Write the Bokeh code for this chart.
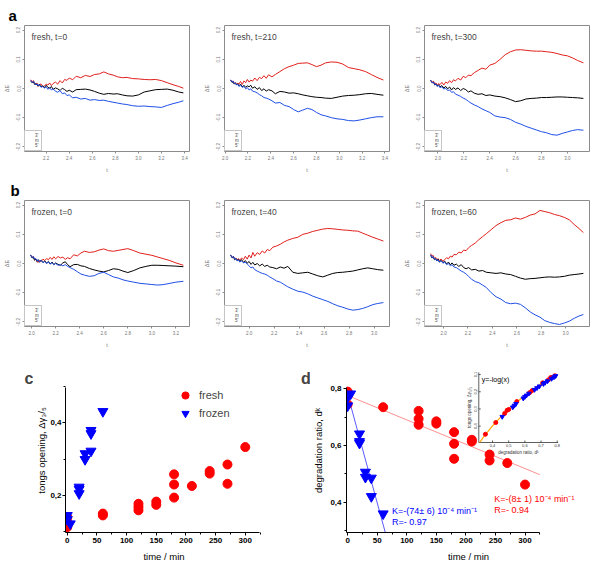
import math
from bokeh.plotting import figure
from bokeh.layouts import column, row
from bokeh.models import (Range1d, FixedTicker, PrintfTickFormatter, Legend,
                          LegendItem, Label, Title)
from bokeh.core.properties import value
from bokeh.embed import file_html
from bokeh.resources import INLINE

FONT = "Liberation Sans"
RED_R, BLACK_R, BLUE_R = "#e0201c", "#000000", "#1f4fe6"
RED_O, BLUE_O = "#ff0000", "#0000ff"

# ---------------- data: panels a / b (relative position traces) ----------------
WALK_LABELS = ["3'", "m", "5'"]
WALK_Y_TICKS = [-0.2, -0.1, 0.0, 0.1, 0.2]

A1_TITLE = "fresh, t=0"
A1_T = [2.065, 2.08, 2.09, 2.10, 2.11, 2.12, 2.13, 2.14, 2.155, 2.17, 2.185, 2.20, 2.215, 2.23, 2.245, 2.26,
        2.28, 2.30, 2.32, 2.34, 2.36, 2.38, 2.40, 2.43, 2.46, 2.50, 2.54, 2.58, 2.62, 2.66, 2.70, 2.74, 2.78,
        2.82, 2.86, 2.90, 2.95, 3.00, 3.05, 3.10, 3.15, 3.20, 3.25, 3.30, 3.35, 3.39]
A1_3P = [0.030, 0.024, 0.027, 0.015, 0.013, 0.019, 0.007, 0.011, 0.016, 0.006, 0.009, 0.015, 0.012, 0.019,
         0.010, 0.017, 0.022, 0.015, 0.027, 0.019, 0.031, 0.028, 0.036, 0.030, 0.042, 0.037, 0.045, 0.041,
         0.048, 0.050, 0.057, 0.050, 0.046, 0.040, 0.037, 0.038, 0.034, 0.033, 0.031, 0.030, 0.031, 0.027,
         0.020, 0.013, 0.007, 0.001]
A1_M = [0.026, 0.019, 0.023, 0.014, 0.017, 0.012, 0.008, 0.015, 0.006, 0.009, 0.003, 0.011, 0.004, 0.001,
        0.007, -0.003, 0.002, -0.001, -0.007, 0.001, -0.004, -0.010, -0.006, -0.012, -0.004, -0.003, -0.002,
        -0.005, -0.010, -0.016, -0.020, -0.017, -0.019, -0.018, -0.022, -0.025, -0.026, -0.022, -0.012,
        -0.008, -0.004, -0.003, -0.002, -0.006, -0.012, -0.015]
A1_5P = [0.028, 0.021, 0.025, 0.017, 0.012, 0.016, 0.009, 0.013, 0.004, 0.008, 0.001, 0.006, -0.003, 0.003,
         -0.005, -0.001, -0.009, -0.013, -0.007, -0.018, -0.015, -0.024, -0.022, -0.032, -0.030, -0.036,
         -0.034, -0.040, -0.038, -0.041, -0.040, -0.044, -0.047, -0.050, -0.053, -0.055, -0.059, -0.061,
         -0.060, -0.062, -0.063, -0.065, -0.058, -0.052, -0.047, -0.042]
A1_X_TICKS = [2.2, 2.4, 2.6, 2.8, 3.0, 3.2, 3.4]

A2_TITLE = "fresh, t=210"
A2_T = [2.048, 2.06, 2.07, 2.08, 2.09, 2.10, 2.11, 2.12, 2.135, 2.15, 2.165, 2.18, 2.195, 2.21, 2.225, 2.24,
        2.26, 2.28, 2.30, 2.32, 2.34, 2.36, 2.38, 2.41, 2.44, 2.48, 2.52, 2.56, 2.60, 2.64, 2.68, 2.72, 2.76,
        2.80, 2.84, 2.88, 2.93, 2.98, 3.03, 3.08, 3.13, 3.18, 3.23, 3.28, 3.33, 3.386]
A2_3P = [0.029, 0.023, 0.026, 0.017, 0.021, 0.013, 0.019, 0.015, 0.024, 0.014, 0.026, 0.020, 0.031, 0.022,
         0.029, 0.025, 0.036, 0.027, 0.038, 0.034, 0.044, 0.035, 0.047, 0.040, 0.048, 0.058, 0.068, 0.075,
         0.080, 0.086, 0.087, 0.088, 0.082, 0.075, 0.080, 0.088, 0.091, 0.090, 0.084, 0.072, 0.068, 0.064,
         0.058, 0.048, 0.038, 0.029]
A2_M = [0.028, 0.021, 0.023, 0.015, 0.019, 0.012, 0.016, 0.009, 0.015, 0.005, 0.011, 0.004, 0.009, 0.006,
        0.011, 0.001, 0.006, -0.003, 0.003, -0.007, -0.001, -0.009, -0.004, -0.008, -0.018, -0.010, -0.012,
        -0.016, -0.015, -0.018, -0.022, -0.025, -0.028, -0.030, -0.031, -0.033, -0.034, -0.030, -0.026,
        -0.024, -0.023, -0.021, -0.018, -0.017, -0.020, -0.023]
A2_5P = [0.030, 0.023, 0.025, 0.017, 0.019, 0.012, 0.015, 0.007, 0.011, 0.004, 0.007, -0.001, 0.003, -0.005,
         -0.001, -0.009, -0.011, -0.015, -0.021, -0.025, -0.031, -0.033, -0.036, -0.042, -0.050, -0.048,
         -0.058, -0.062, -0.072, -0.080, -0.074, -0.068, -0.072, -0.082, -0.090, -0.094, -0.100, -0.104,
         -0.106, -0.110, -0.111, -0.108, -0.104, -0.100, -0.097, -0.097]
A2_X_TICKS = [2.0, 2.2, 2.4, 2.6, 2.8, 3.0, 3.2, 3.4]

A3_TITLE = "fresh, t=300"
A3_T = [1.943, 1.955, 1.965, 1.975, 1.985, 1.995, 2.005, 2.015, 2.03, 2.045, 2.06, 2.075, 2.09, 2.105, 2.12,
        2.135, 2.155, 2.175, 2.195, 2.215, 2.235, 2.255, 2.28, 2.31, 2.34, 2.37, 2.40, 2.44, 2.48, 2.52, 2.56,
        2.60, 2.64, 2.68, 2.72, 2.76, 2.80, 2.84, 2.88, 2.92, 2.96, 3.00, 3.04, 3.08, 3.124]
A3_3P = [0.029, 0.022, 0.025, 0.016, 0.019, 0.011, 0.017, 0.013, 0.021, 0.012, 0.022, 0.018, 0.027, 0.020,
         0.030, 0.026, 0.035, 0.029, 0.042, 0.037, 0.046, 0.044, 0.054, 0.062, 0.070, 0.066, 0.080, 0.086,
         0.100, 0.116, 0.126, 0.132, 0.133, 0.131, 0.129, 0.128, 0.128, 0.126, 0.124, 0.120, 0.115, 0.112,
         0.105, 0.096, 0.088]
A3_M = [0.028, 0.019, 0.022, 0.012, 0.015, 0.008, 0.013, 0.005, 0.010, 0.002, 0.007, -0.001, 0.005, -0.005,
        0.003, -0.003, 0.002, -0.007, 0.000, -0.004, -0.012, -0.008, -0.016, -0.020, -0.018, -0.024, -0.022,
        -0.026, -0.028, -0.032, -0.038, -0.045, -0.042, -0.036, -0.034, -0.033, -0.031, -0.031, -0.030,
        -0.029, -0.029, -0.030, -0.031, -0.032, -0.034]
A3_5P = [0.028, 0.020, 0.022, 0.013, 0.016, 0.007, 0.011, 0.003, 0.006, -0.002, 0.001, -0.007, -0.005, -0.013,
         -0.011, -0.019, -0.023, -0.027, -0.033, -0.037, -0.044, -0.050, -0.056, -0.062, -0.070, -0.076,
         -0.082, -0.094, -0.098, -0.100, -0.106, -0.116, -0.122, -0.130, -0.136, -0.142, -0.148, -0.152,
         -0.158, -0.160, -0.154, -0.149, -0.144, -0.141, -0.143]
A3_X_TICKS = [2.0, 2.2, 2.4, 2.6, 2.8, 3.0]

B1_TITLE = "frozen, t=0"
B1_T = [1.992, 2.005, 2.015, 2.025, 2.035, 2.045, 2.055, 2.065, 2.08, 2.095, 2.11, 2.125, 2.14, 2.155, 2.17,
        2.185, 2.20, 2.22, 2.24, 2.26, 2.28, 2.30, 2.32, 2.35, 2.38, 2.41, 2.44, 2.48, 2.52, 2.56, 2.60, 2.64,
        2.68, 2.72, 2.76, 2.80, 2.85, 2.90, 2.95, 3.00, 3.05, 3.10, 3.15, 3.20, 3.262]
B1_3P = [0.029, 0.021, 0.024, 0.013, 0.016, 0.006, 0.004, 0.011, 0.007, 0.015, 0.010, 0.017, 0.013, 0.021,
         0.014, 0.023, 0.016, 0.024, 0.019, 0.022, 0.014, 0.020, 0.016, 0.030, 0.026, 0.036, 0.042, 0.038,
         0.040, 0.046, 0.050, 0.044, 0.042, 0.045, 0.048, 0.051, 0.044, 0.036, 0.032, 0.028, 0.022, 0.016,
         0.010, 0.002, -0.006]
B1_M = [0.028, 0.019, 0.022, 0.011, 0.015, 0.007, 0.013, 0.005, 0.011, 0.003, 0.009, 0.001, 0.007, -0.002,
        0.005, -0.004, 0.002, -0.003, -0.006, 0.002, 0.006, -0.004, -0.011, -0.004, -0.003, -0.008, -0.010,
        -0.017, -0.022, -0.026, -0.029, -0.024, -0.018, -0.020, -0.026, -0.031, -0.024, -0.015, -0.010,
        -0.006, -0.006, -0.007, -0.008, -0.009, -0.011]
B1_5P = [0.030, 0.021, 0.024, 0.015, 0.017, 0.009, 0.013, 0.005, 0.011, 0.003, 0.007, 0.000, 0.005, -0.002,
         0.003, -0.004, 0.000, -0.006, -0.004, -0.008, -0.004, -0.010, -0.014, -0.020, -0.028, -0.036,
         -0.040, -0.044, -0.042, -0.034, -0.030, -0.038, -0.046, -0.050, -0.056, -0.060, -0.064, -0.068,
         -0.070, -0.072, -0.074, -0.072, -0.068, -0.064, -0.061]
B1_X_TICKS = [2.0, 2.2, 2.4, 2.6, 2.8, 3.0, 3.2]

B2_TITLE = "frozen, t=40"
B2_T = [1.852, 1.865, 1.875, 1.885, 1.895, 1.905, 1.915, 1.925, 1.94, 1.955, 1.97, 1.985, 2.00, 2.015, 2.03,
        2.045, 2.065, 2.085, 2.105, 2.125, 2.145, 2.165, 2.19, 2.22, 2.25, 2.28, 2.31, 2.35, 2.39, 2.43, 2.47,
        2.51, 2.55, 2.59, 2.63, 2.67, 2.71, 2.75, 2.79, 2.83, 2.87, 2.91, 2.95, 2.99, 3.03, 3.075]
B2_3P = [0.029, 0.021, 0.024, 0.015, 0.019, 0.012, 0.017, 0.011, 0.019, 0.013, 0.025, 0.015, 0.029, 0.019,
         0.038, 0.025, 0.037, 0.031, 0.043, 0.036, 0.048, 0.044, 0.056, 0.060, 0.066, 0.074, 0.080, 0.086,
         0.090, 0.100, 0.104, 0.110, 0.114, 0.118, 0.120, 0.119, 0.117, 0.115, 0.114, 0.112, 0.111, 0.104,
         0.097, 0.090, 0.084, 0.077]
B2_M = [0.028, 0.019, 0.023, 0.013, 0.017, 0.009, 0.015, 0.007, 0.013, 0.004, 0.010, 0.001, 0.007, -0.003,
        0.004, -0.005, 0.000, -0.008, -0.002, -0.010, -0.006, -0.012, -0.014, -0.018, -0.012, -0.016, -0.010,
        -0.030, -0.034, -0.032, -0.030, -0.036, -0.042, -0.046, -0.040, -0.034, -0.031, -0.030, -0.028,
        -0.026, -0.022, -0.018, -0.015, -0.018, -0.021, -0.023]
B2_5P = [0.030, 0.021, 0.024, 0.015, 0.017, 0.009, 0.013, 0.005, 0.009, 0.002, 0.005, -0.002, -0.008, -0.015,
         -0.012, -0.021, -0.026, -0.030, -0.034, -0.036, -0.040, -0.046, -0.052, -0.060, -0.064, -0.072,
         -0.080, -0.088, -0.095, -0.098, -0.104, -0.112, -0.118, -0.124, -0.130, -0.138, -0.145, -0.150,
         -0.156, -0.160, -0.158, -0.154, -0.148, -0.141, -0.137, -0.134]
B2_X_TICKS = [1.8, 2.0, 2.2, 2.4, 2.6, 2.8, 3.0]

B3_TITLE = "frozen, t=60"
B3_T = [1.894, 1.905, 1.915, 1.925, 1.935, 1.945, 1.955, 1.965, 1.98, 1.995, 2.01, 2.025, 2.04, 2.055, 2.07,
        2.085, 2.105, 2.125, 2.145, 2.165, 2.185, 2.205, 2.23, 2.26, 2.29, 2.32, 2.35, 2.39, 2.43, 2.47, 2.51,
        2.55, 2.59, 2.63, 2.67, 2.71, 2.75, 2.79, 2.83, 2.87, 2.91, 2.95, 2.99, 3.03, 3.07, 3.11, 3.146]
B3_3P = [0.034, 0.025, 0.028, 0.017, 0.021, 0.012, 0.017, 0.010, 0.015, 0.008, 0.013, 0.020, 0.016, 0.025,
         0.022, 0.031, 0.030, 0.039, 0.036, 0.046, 0.044, 0.054, 0.062, 0.070, 0.082, 0.092, 0.102, 0.116,
         0.130, 0.140, 0.148, 0.150, 0.156, 0.152, 0.158, 0.166, 0.170, 0.182, 0.178, 0.174, 0.168, 0.164,
         0.158, 0.150, 0.134, 0.120, 0.106]
B3_M = [0.028, 0.019, 0.022, 0.013, 0.017, 0.009, 0.015, 0.005, 0.011, 0.003, 0.008, -0.002, 0.005, -0.004,
        0.002, -0.006, -0.002, -0.010, -0.004, -0.014, -0.018, -0.014, -0.022, -0.020, -0.026, -0.024, -0.030,
        -0.032, -0.034, -0.032, -0.036, -0.038, -0.044, -0.050, -0.054, -0.052, -0.051, -0.049, -0.047,
        -0.046, -0.047, -0.046, -0.044, -0.040, -0.038, -0.036, -0.034]
B3_5P = [0.030, 0.021, 0.024, 0.015, 0.017, 0.009, 0.013, 0.005, 0.009, 0.001, 0.005, -0.004, 0.000, -0.008,
         -0.004, -0.012, -0.014, -0.020, -0.026, -0.030, -0.036, -0.044, -0.054, -0.062, -0.066, -0.074,
         -0.082, -0.100, -0.114, -0.122, -0.134, -0.138, -0.136, -0.140, -0.152, -0.166, -0.176, -0.184,
         -0.196, -0.202, -0.206, -0.209, -0.204, -0.198, -0.188, -0.180, -0.175]
B3_X_TICKS = [2.0, 2.2, 2.4, 2.6, 2.8, 3.0]

# ---------------- data: panel c (tongs opening vs time) ----------------
C_FRESH_T = [0, 0, 0, 0, 60, 60, 120, 120, 120, 150, 150, 180, 180, 180, 210, 240, 240, 270, 270, 300]
C_FRESH_Y = [0.140, 0.127, 0.118, 0.113, 0.150, 0.145, 0.177, 0.168, 0.159, 0.183, 0.174, 0.258, 0.230,
             0.194, 0.226, 0.267, 0.260, 0.285, 0.232, 0.333]
C_FROZEN_T = [0, 0, 5, 20, 20, 20, 30, 30, 40, 40, 40, 60]
C_FROZEN_Y = [0.145, 0.134, 0.122, 0.223, 0.217, 0.205, 0.315, 0.299, 0.379, 0.370, 0.322, 0.431]
C_X_TICKS = [0, 50, 100, 150, 200, 250, 300]
C_Y_TICKS = [0.2, 0.4]

# ---------------- data: panel d (degradation ratio vs time) ----------------
D_FRESH_T = [0, 0, 60, 120, 120, 120, 150, 150, 180, 180, 180, 210, 210, 240, 240, 270, 300]
D_FRESH_Y = [0.790, 0.745, 0.735, 0.722, 0.694, 0.673, 0.685, 0.677, 0.647, 0.606, 0.553, 0.620, 0.614,
             0.568, 0.547, 0.538, 0.462]
D_FROZEN_T = [0, 0, 5, 20, 20, 20, 30, 30, 40, 40, 60]
D_FROZEN_Y = [0.770, 0.740, 0.782, 0.641, 0.614, 0.608, 0.506, 0.488, 0.485, 0.420, 0.359]
D_FIT_FRESH_T = [0, 325]
D_FIT_FRESH_Y = [0.776, 0.497]
D_FIT_FROZEN_T = [0, 64]
D_FIT_FROZEN_Y = [0.780, 0.290]
D_Y_TICKS = [0.4, 0.6, 0.8]
D_FROZEN_TEXT = ["K=-(74± 6) 10⁻⁴ min⁻¹", "R=- 0.97"]
D_FRESH_TEXT = ["K=-(8± 1) 10⁻⁴ min⁻¹", "R=- 0.94"]

# inset of d: tongs opening vs degradation ratio
INSET_FIT_X = [0.32, 0.35, 0.40, 0.45, 0.50, 0.55, 0.60, 0.65, 0.70, 0.75, 0.80]
INSET_FIT_Y = [0.495, 0.456, 0.398, 0.347, 0.301, 0.260, 0.222, 0.187, 0.155, 0.125, 0.097]
INSET_FRESH_X = [0.356, 0.42, 0.475, 0.49, 0.50, 0.55, 0.63, 0.645, 0.71, 0.745, 0.76, 0.785]
INSET_FRESH_Y = [0.447, 0.379, 0.326, 0.308, 0.303, 0.257, 0.205, 0.193, 0.148, 0.131, 0.117, 0.107]
INSET_FROZEN_X = [0.46, 0.525, 0.535, 0.545, 0.59, 0.60, 0.61, 0.625, 0.66, 0.675, 0.69, 0.715, 0.725,
                  0.74, 0.765, 0.78, 0.79]
INSET_FROZEN_Y = [0.345, 0.290, 0.280, 0.270, 0.238, 0.229, 0.221, 0.210, 0.188, 0.178, 0.168, 0.154,
                  0.147, 0.138, 0.124, 0.115, 0.108]
INSET_X_TICKS = [0.4, 0.5, 0.6, 0.7, 0.8]
INSET_Y_TICKS = [0.1, 0.2, 0.3, 0.4]
INSET_X_LIM = (0.315, 0.806)   # left, right
INSET_Y_LIM = (0.088, 0.495)   # top, bottom (reversed axis)


def comma(v, fmt="%.1f"):
    return (fmt % v).replace(".", ",")


def letter_title(letter, offset, standoff, size="15px"):
    return Title(text=letter, align="left", offset=offset, standoff=standoff, vertical_align="bottom",
                 text_font=FONT, text_font_size=size, text_font_style="bold", text_color="black")


# ---------------- small R-style panels ----------------
SMALL_W, SMALL_H = 200, 175
SMALL_FRAME_W, SMALL_FRAME_H = 170, 127
SMALL_BL, SMALL_BT = 19, 25


def walk_panel(title, t, y3, ym, y5, xticks, letter=None, letter_x=0):
    pad = 0.04 * (max(t) - min(t))
    ypad = 0.04 * (WALK_Y_TICKS[-1] - WALK_Y_TICKS[0])
    p = figure(width=SMALL_W, height=SMALL_H, title=None,
               x_range=Range1d(min(t) - pad, max(t) + pad),
               y_range=Range1d(WALK_Y_TICKS[0] - ypad, WALK_Y_TICKS[-1] + ypad),
               output_backend="svg", toolbar_location=None,
               min_border_left=SMALL_BL, min_border_right=SMALL_W - SMALL_BL - SMALL_FRAME_W,
               min_border_top=SMALL_BT, min_border_bottom=SMALL_H - SMALL_BT - SMALL_FRAME_H)
    if letter:
        p.title = letter_title(letter, letter_x - SMALL_BL, 4)
    p.grid.visible = False
    p.outline_line_color = "#8c8c8c"
    p.background_fill_color = "white"
    p.border_fill_color = "white"
    p.line(t, y3, color=RED_R, line_width=1)
    p.line(t, ym, color=BLACK_R, line_width=1)
    p.line(t, y5, color=BLUE_R, line_width=1)

    for ax in (p.xaxis[0], p.yaxis[0]):
        ax.axis_line_color = "#8c8c8c"
        ax.major_tick_line_color = "#8c8c8c"
        ax.minor_tick_line_color = None
        ax.major_tick_out = 2
        ax.major_tick_in = 0
        ax.major_label_text_font = FONT
        ax.major_label_text_font_size = "4.5px"
        ax.major_label_text_color = "#777777"
        ax.major_label_standoff = 2
        ax.axis_label_text_font = FONT
        ax.axis_label_text_font_size = "5.5px"
        ax.axis_label_text_font_style = "normal"
        ax.axis_label_text_color = "#777777"
        ax.axis_label_standoff = 4
        ax.formatter = PrintfTickFormatter(format="%.1f")
    p.xaxis.ticker = FixedTicker(ticks=xticks)
    p.xaxis.bounds = (xticks[0], xticks[-1])
    p.xaxis.axis_label = "t"
    p.yaxis.ticker = FixedTicker(ticks=WALK_Y_TICKS)
    p.yaxis.bounds = (WALK_Y_TICKS[0], WALK_Y_TICKS[-1])
    p.yaxis.major_label_orientation = "parallel"
    p.yaxis.axis_label = "ΔE"

    rs = [p.quad(left=[], right=[], top=[], bottom=[], fill_color=c, line_color=c)
          for c in (RED_R, BLACK_R, BLUE_R)]
    leg = Legend(items=[LegendItem(label=l, renderers=[r]) for l, r in zip(WALK_LABELS, rs)],
                 location="bottom_left", margin=0, padding=2, spacing=0,
                 glyph_width=5, glyph_height=5, label_width=4, label_height=5,
                 label_standoff=3, label_text_font=FONT, label_text_font_size="4.5px",
                 border_line_color="#8c8c8c", border_line_width=1,
                 background_fill_color="white", background_fill_alpha=1)
    p.add_layout(leg)

    p.add_layout(Label(x=p.x_range.start, y=p.y_range.end, x_offset=7, y_offset=-6, text=title,
                       text_font=FONT, text_font_size="8.5px", text_baseline="top", text_align="left"))
    return p


a1 = walk_panel(A1_TITLE, A1_T, A1_3P, A1_M, A1_5P, A1_X_TICKS, "a", 3)
a2 = walk_panel(A2_TITLE, A2_T, A2_3P, A2_M, A2_5P, A2_X_TICKS)
a3 = walk_panel(A3_TITLE, A3_T, A3_3P, A3_M, A3_5P, A3_X_TICKS)
b1 = walk_panel(B1_TITLE, B1_T, B1_3P, B1_M, B1_5P, B1_X_TICKS, "b", 5)
b2 = walk_panel(B2_TITLE, B2_T, B2_3P, B2_M, B2_5P, B2_X_TICKS)
b3 = walk_panel(B3_TITLE, B3_T, B3_3P, B3_M, B3_5P, B3_X_TICKS)


# ---------------- Origin-style panels ----------------
def style_origin(p, xticks, yticks, ylabel, label_standoff, tick_label_standoff=2):
    p.grid.visible = False
    p.outline_line_color = None
    p.background_fill_color = "white"
    p.border_fill_color = "white"
    for ax in (p.xaxis[0], p.yaxis[0]):
        ax.axis_line_color = "black"
        ax.axis_line_width = 1
        ax.major_tick_line_color = "black"
        ax.minor_tick_line_color = "black"
        ax.major_tick_out = 3
        ax.major_tick_in = 0
        ax.minor_tick_out = 2
        ax.minor_tick_in = 0
        ax.major_label_text_font = FONT
        ax.major_label_text_font_size = "8px"
        ax.major_label_text_font_style = "bold"
        ax.major_label_text_color = "black"
        ax.major_label_standoff = 2
        ax.axis_label_text_font = FONT
        ax.axis_label_text_font_size = "9.5px"
        ax.axis_label_text_font_style = "normal"
        ax.axis_label_text_color = "black"
        ax.axis_label_standoff = label_standoff
    minor_x = [v + 25 for v in xticks]
    p.xaxis.ticker = FixedTicker(ticks=xticks, minor_ticks=minor_x)
    p.xaxis.axis_label = "time / min"
    p.xaxis.axis_label_standoff = 5
    p.yaxis.major_label_standoff = tick_label_standoff
    p.yaxis.ticker = FixedTicker(ticks=yticks,
                                 minor_ticks=[round(v - 0.1, 2) for v in yticks] + [round(yticks[-1] + 0.1, 2)])
    p.yaxis.major_label_overrides = {v: comma(v) for v in yticks}
    p.yaxis.axis_label = ylabel


# bottom row: every plot in a row shares the same top / bottom borders
BOT_H, BOT_BT, BOT_BB = 221, 18, 39
BOT_FH = BOT_H - BOT_BT - BOT_BB
LETTER_BASELINE = 28  # px below the row's top edge


def letter_strip(width, letter, x):
    s = figure(width=width, height=BOT_H, title=None, x_range=Range1d(0, width), y_range=Range1d(0, BOT_FH),
               x_axis_type=None, y_axis_type=None, output_backend="svg", toolbar_location=None,
               min_border_left=0, min_border_right=0, min_border_top=BOT_BT, min_border_bottom=BOT_BB)
    s.outline_line_color = None
    s.border_fill_color = "white"
    s.background_fill_color = "white"
    s.add_layout(Label(x=x, y=BOT_FH - (LETTER_BASELINE - BOT_BT), text=letter, text_font=FONT,
                       text_font_size="16px", text_font_style="bold", text_baseline="alphabetic",
                       text_align="left"))
    return s


# panel c
CSTRIP_W = 33
C_W, C_BL, C_BR = 300 - CSTRIP_W, 32, 38
C_X_PX = 0.5933   # px per minute
C_Y_PX = 363.5    # px per unit
C_Y_AXIS = (0.098, 0.497)
c_fw = C_W - C_BL - C_BR
cstrip = letter_strip(CSTRIP_W, "c", 24)
cfig = figure(width=C_W, height=BOT_H, title=None, x_range=Range1d(-3, -3 + c_fw / C_X_PX),
              y_range=Range1d(C_Y_AXIS[0], C_Y_AXIS[0] + BOT_FH / C_Y_PX),
              output_backend="svg", toolbar_location=None,
              min_border_left=C_BL, min_border_right=C_BR, min_border_top=BOT_BT, min_border_bottom=BOT_BB)
style_origin(cfig, C_X_TICKS, C_Y_TICKS, "tongs opening, Δγ₃/₅", 0, 1)
cfig.xaxis.bounds = (-3, 324)
cfig.yaxis.bounds = C_Y_AXIS
rc1 = cfig.scatter(C_FRESH_T, C_FRESH_Y, marker="circle", size=9, fill_color=RED_O, line_color=RED_O)
rc2 = cfig.scatter(C_FROZEN_T, C_FROZEN_Y, marker="inverted_triangle", size=10,
                   fill_color=BLUE_O, line_color=BLUE_O)
cleg = Legend(items=[LegendItem(label="fresh", renderers=[rc1]), LegendItem(label="frozen", renderers=[rc2])],
              location=(111, 110), margin=0, padding=0, spacing=0,
              glyph_width=18, glyph_height=18, label_height=14, label_standoff=5,
              label_text_font=FONT, label_text_font_size="11px",
              border_line_color=None, background_fill_alpha=0)
cfig.add_layout(cleg)

# panel d
DSTRIP_W = 10
dstrip = letter_strip(DSTRIP_W, "d", 0.6)
D_W, D_BL, D_BR = 600 - 300 - DSTRIP_W, 31, 10
D_X_PX = 0.6033
D_Y_PX = 283.5
D_Y_AXIS = (0.293, 0.806)
d_fw = D_W - D_BL - D_BR
dfig = figure(width=D_W, height=BOT_H, title=None, x_range=Range1d(-2, -2 + d_fw / D_X_PX),
              y_range=Range1d(D_Y_AXIS[0], D_Y_AXIS[0] + BOT_FH / D_Y_PX),
              output_backend="svg", toolbar_location=None,
              min_border_left=D_BL, min_border_right=D_BR, min_border_top=BOT_BT, min_border_bottom=BOT_BB)
style_origin(dfig, C_X_TICKS, D_Y_TICKS, "degradation ratio, dᵏ", 3)
dfig.xaxis.bounds = (-2, 325)
dfig.yaxis.bounds = D_Y_AXIS
dfig.line(D_FIT_FRESH_T, D_FIT_FRESH_Y, color="#ff9090", line_width=1)
dfig.line(D_FIT_FROZEN_T, D_FIT_FROZEN_Y, color="#5a5aff", line_width=1)
dfig.scatter(D_FRESH_T, D_FRESH_Y, marker="circle", size=9, fill_color=RED_O, line_color=RED_O)
dfig.scatter(D_FROZEN_T, D_FROZEN_Y, marker="inverted_triangle", size=10, fill_color=BLUE_O, line_color=BLUE_O)
for i, txt in enumerate(D_FROZEN_TEXT):
    dfig.add_layout(Label(x=75, y=0.386, y_offset=-11 * i, text=txt, text_color=BLUE_O, text_font=FONT,
                          text_font_size="9px", text_baseline="top", text_align="left"))
for i, txt in enumerate(D_FRESH_TEXT):
    dfig.add_layout(Label(x=248, y=0.430, y_offset=-11 * i, text=txt, text_color=RED_O, text_font=FONT,
                          text_font_size="9px", text_baseline="top", text_align="left"))

# inset placed through extra ranges mapped onto a sub-box of d's frame
INSET_PX = (135, 216, 4, 74)  # left, right, top, bottom (px from frame's top-left)
ux = (INSET_X_LIM[1] - INSET_X_LIM[0]) / (INSET_PX[1] - INSET_PX[0])
x_lo = INSET_X_LIM[0] - INSET_PX[0] * ux
uy = (INSET_Y_LIM[1] - INSET_Y_LIM[0]) / (INSET_PX[3] - INSET_PX[2])
y_top = INSET_Y_LIM[0] - INSET_PX[2] * uy
dfig.extra_x_ranges = {"ix": Range1d(x_lo, x_lo + d_fw * ux)}
dfig.extra_y_ranges = {"iy": Range1d(y_top + BOT_FH * uy, y_top)}
IK = dict(x_range_name="ix", y_range_name="iy")
xl, xr = INSET_X_LIM
yt, yb = INSET_Y_LIM
dfig.segment(x0=[xl, xl], y0=[yt, yb], x1=[xl, xr], y1=[yb, yb], color="#333333", line_width=0.8, **IK)
dfig.segment(x0=INSET_X_TICKS, y0=[yb] * len(INSET_X_TICKS), x1=INSET_X_TICKS,
             y1=[yb - 2 * uy] * len(INSET_X_TICKS), color="#333333", line_width=0.8, **IK)
dfig.segment(x0=[xl] * len(INSET_Y_TICKS), y0=INSET_Y_TICKS, x1=[xl + 2 * ux] * len(INSET_Y_TICKS),
             y1=INSET_Y_TICKS, color="#333333", line_width=0.8, **IK)
dfig.text(x=INSET_X_TICKS, y=[yb] * len(INSET_X_TICKS), text=[comma(v) for v in INSET_X_TICKS],
          text_font=value(FONT), text_font_size="4px", text_align="center", text_baseline="top",
          y_offset=1.5, text_color="#333333", **IK)
dfig.text(x=[xl] * len(INSET_Y_TICKS), y=INSET_Y_TICKS, text=[comma(v) for v in INSET_Y_TICKS],
          text_font=value(FONT), text_font_size="4px", text_align="center", text_baseline="bottom",
          angle=math.pi / 2, x_offset=-1.5, text_color="#333333", **IK)
dfig.text(x=[(xl + xr) / 2], y=[yb], text=["degradation ratio, dᵏ"], text_font=value(FONT),
          text_font_size="4.5px", text_align="center", text_baseline="top", y_offset=7,
          text_color="#333333", **IK)
dfig.text(x=[xl], y=[(yt + yb) / 2], text=["tongs opening, Δγ₃/₅"], text_font=value(FONT),
          text_font_size="4.5px", text_align="center", text_baseline="bottom", angle=math.pi / 2,
          x_offset=-7, text_color="#333333", **IK)
dfig.line(INSET_FIT_X, INSET_FIT_Y, color="#ffa500", line_width=1.2, **IK)
dfig.scatter(INSET_FRESH_X, INSET_FRESH_Y, marker="circle", size=4, fill_color=RED_O, line_color=RED_O, **IK)
dfig.scatter(INSET_FROZEN_X, INSET_FROZEN_Y, marker="inverted_triangle", size=4.5,
             fill_color=BLUE_O, line_color=BLUE_O, **IK)
dfig.text(x=[xl], y=[yt], text=["y=-log(x)"], text_font=value(FONT), text_font_size="7px",
          text_align="left", text_baseline="top", x_offset=3, y_offset=3, text_color="black", **IK)

layout = column(row(a1, a2, a3), row(b1, b2, b3), row(cstrip, cfig, dstrip, dfig))
open("out.html", "w").write(file_html(layout, INLINE))
